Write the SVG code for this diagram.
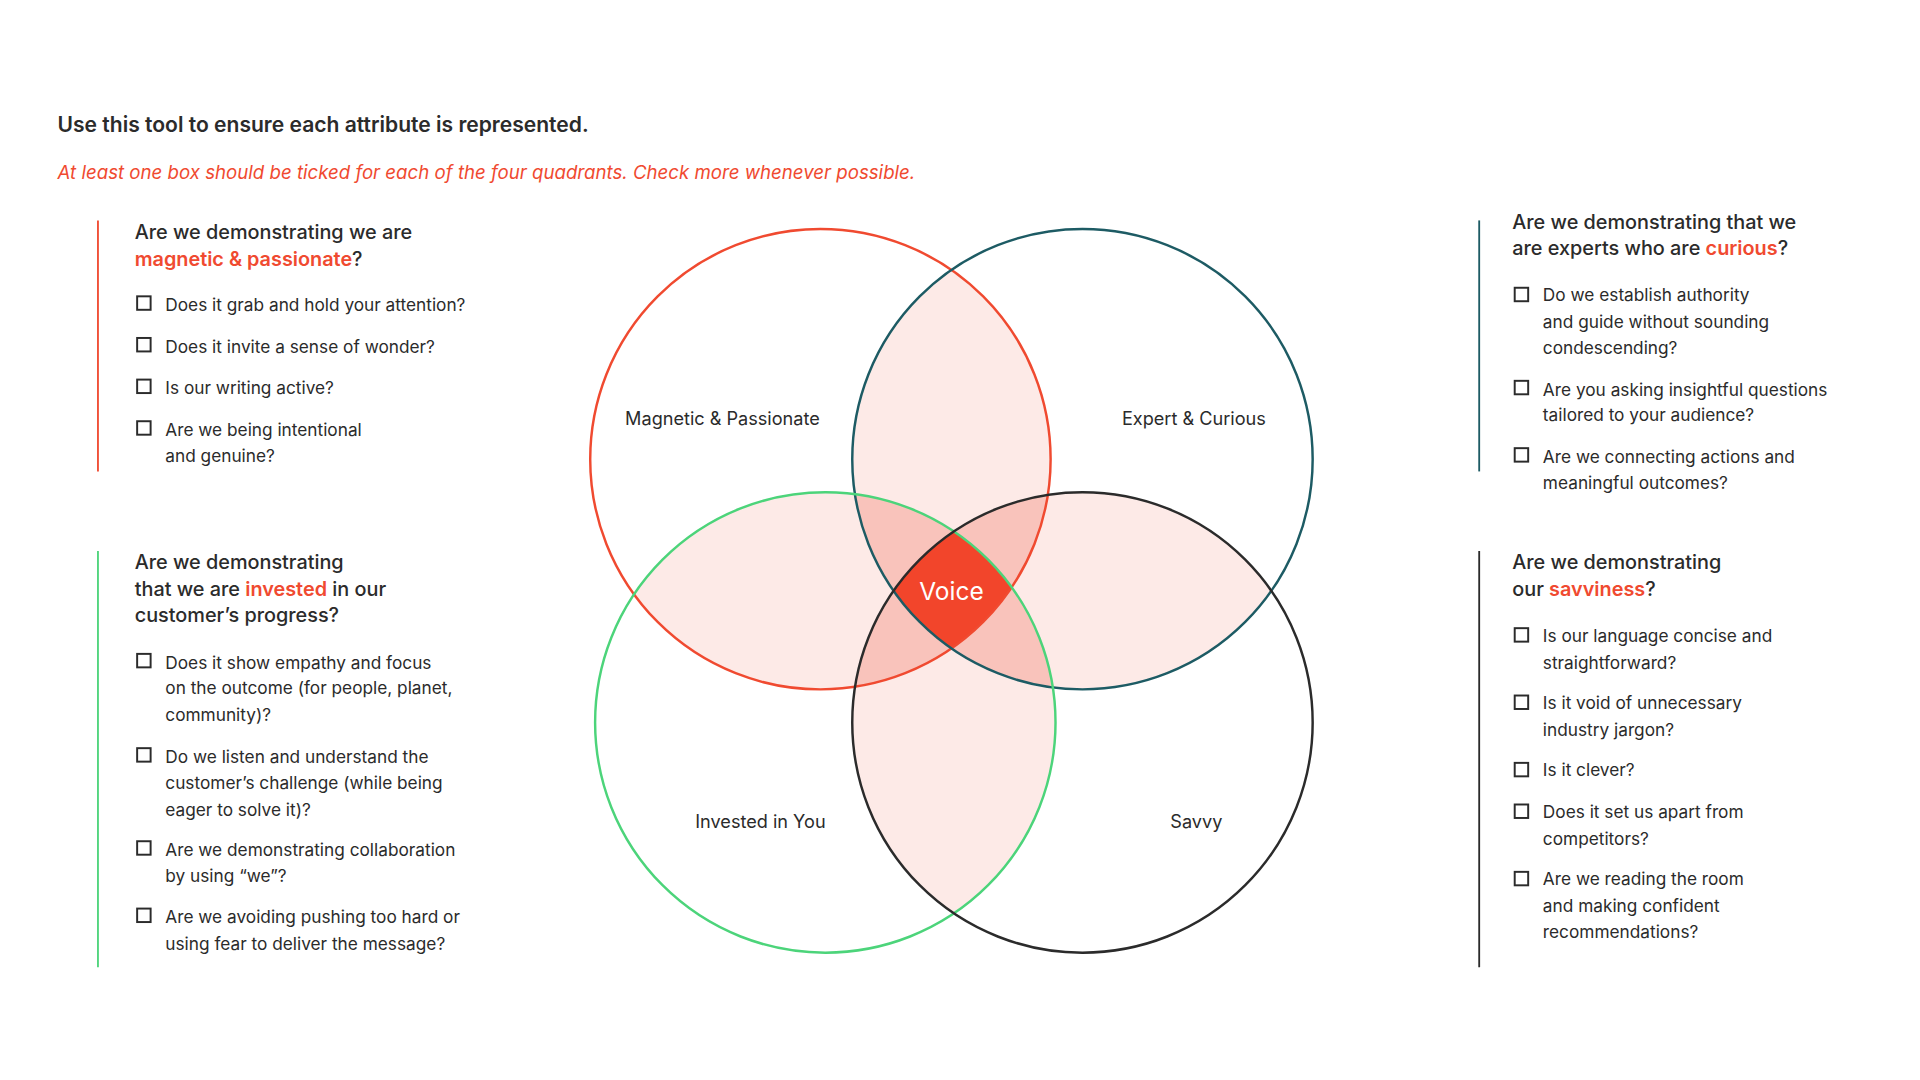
<svg xmlns="http://www.w3.org/2000/svg" width="1920" height="1080" viewBox="0 0 1920 1080">
<style>
text{font-family:Inter,"Liberation Sans",sans-serif;fill:#2b2b2b}
.h{font-size:16.2px;font-weight:500}
.b{font-size:14.1px}
.o{fill:#f04a30;font-weight:600}
.cb{fill:none;stroke:#2b2b2b;stroke-width:1.6}
.lbl{font-size:14.8px}
</style>
<defs>
<clipPath id="cR"><circle cx="670" cy="375" r="188"/></clipPath>
<clipPath id="cT"><circle cx="884" cy="375" r="188"/></clipPath>
<clipPath id="cG"><circle cx="674" cy="590" r="188"/></clipPath>
<clipPath id="cB"><circle cx="884" cy="590" r="188"/></clipPath>
</defs>
<rect width="1920" height="1080" fill="#fff"/>
<g transform="scale(1.2245)">
<text x="47" y="108" style="font-size:17.2px;font-weight:600">Use this tool to ensure each attribute is represented.</text>
<text x="47" y="146" style="font-size:15.25px;font-style:italic;fill:#f04a30">At least one box should be ticked for each of the four quadrants. Check more whenever possible.</text>

<g id="venn-fill">
<g clip-path="url(#cR)"><circle cx="884" cy="375" r="188" fill="#fdeae7"/><circle cx="674" cy="590" r="188" fill="#fdeae7"/></g>
<g clip-path="url(#cB)"><circle cx="884" cy="375" r="188" fill="#fdeae7"/><circle cx="674" cy="590" r="188" fill="#fdeae7"/></g>
<g clip-path="url(#cR)"><g clip-path="url(#cT)"><circle cx="674" cy="590" r="188" fill="#f9c3bb"/><circle cx="884" cy="590" r="188" fill="#f9c3bb"/></g></g>
<g clip-path="url(#cG)"><g clip-path="url(#cB)"><circle cx="670" cy="375" r="188" fill="#f9c3bb"/><circle cx="884" cy="375" r="188" fill="#f9c3bb"/></g></g>
<g clip-path="url(#cR)"><g clip-path="url(#cT)"><g clip-path="url(#cG)"><circle cx="884" cy="590" r="188" fill="#f2452b"/></g></g></g>
</g>
<g id="circles" fill="none" stroke-width="2">
<circle id="c-mag" cx="670" cy="375" r="188" stroke="#f04a30"/>
<circle id="c-exp" cx="884" cy="375" r="188" stroke="#1d5b64"/>
<circle id="c-inv" cx="674" cy="590" r="188" stroke="#4cd47a"/>
<circle id="c-sav" cx="884" cy="590" r="188" stroke="#2b2b2b"/>
</g>
<g id="venn-labels">
<text x="590" y="347" text-anchor="middle" class="lbl">Magnetic &amp; Passionate</text>
<text x="975" y="347" text-anchor="middle" class="lbl">Expert &amp; Curious</text>
<text x="621" y="676" text-anchor="middle" class="lbl">Invested in You</text>
<text x="977" y="676" text-anchor="middle" class="lbl">Savvy</text>
<text x="777" y="490" text-anchor="middle" style="font-size:20px;fill:#fff">Voice</text>
</g>

<g id="panel-mag">
<line x1="80" y1="180" x2="80" y2="385" stroke="#f04a30" stroke-width="1.5"/>
<text x="110" y="195" class="h">Are we demonstrating we are</text>
<text x="110" y="217" class="h"><tspan class="o">magnetic &amp; passionate</tspan>?</text>
<rect x="112" y="242" width="11" height="11" class="cb"/><text x="135" y="254" class="b">Does it grab and hold your attention?</text>
<rect x="112" y="276" width="11" height="11" class="cb"/><text x="135" y="288" class="b">Does it invite a sense of wonder?</text>
<rect x="112" y="310" width="11" height="11" class="cb"/><text x="135" y="322" class="b">Is our writing active?</text>
<rect x="112" y="344" width="11" height="11" class="cb"/><text x="135" y="356" class="b">Are we being intentional</text>
<text x="135" y="377" class="b">and genuine?</text>
</g>

<g id="panel-inv">
<line x1="80" y1="450" x2="80" y2="790" stroke="#4cd47a" stroke-width="1.5"/>
<text x="110" y="465" class="h">Are we demonstrating</text>
<text x="110" y="487" class="h">that we are <tspan class="o">invested</tspan> in our</text>
<text x="110" y="508" class="h">customer’s progress?</text>
<rect x="112" y="534" width="11" height="11" class="cb"/><text x="135" y="546" class="b">Does it show empathy and focus</text>
<text x="135" y="567" class="b">on the outcome (for people, planet,</text>
<text x="135" y="589" class="b">community)?</text>
<rect x="112" y="611" width="11" height="11" class="cb"/><text x="135" y="623" class="b">Do we listen and understand the</text>
<text x="135" y="644" class="b">customer’s challenge (while being</text>
<text x="135" y="666" class="b">eager to solve it)?</text>
<rect x="112" y="687" width="11" height="11" class="cb"/><text x="135" y="699" class="b">Are we demonstrating collaboration</text>
<text x="135" y="720" class="b">by using “we”?</text>
<rect x="112" y="742" width="11" height="11" class="cb"/><text x="135" y="754" class="b">Are we avoiding pushing too hard or</text>
<text x="135" y="776" class="b">using fear to deliver the message?</text>
</g>

<g id="panel-exp">
<line x1="1208" y1="180" x2="1208" y2="385" stroke="#1d5b64" stroke-width="1.5"/>
<text x="1235" y="187" class="h">Are we demonstrating that we</text>
<text x="1235" y="208" class="h">are experts who are <tspan class="o">curious</tspan>?</text>
<rect x="1237" y="235" width="11" height="11" class="cb"/><text x="1260" y="246" class="b">Do we establish authority</text>
<text x="1260" y="268" class="b">and guide without sounding</text>
<text x="1260" y="289" class="b">condescending?</text>
<rect x="1237" y="311" width="11" height="11" class="cb"/><text x="1260" y="323" class="b">Are you asking insightful questions</text>
<text x="1260" y="344" class="b">tailored to your audience?</text>
<rect x="1237" y="366" width="11" height="11" class="cb"/><text x="1260" y="378" class="b">Are we connecting actions and</text>
<text x="1260" y="399" class="b">meaningful outcomes?</text>
</g>

<g id="panel-sav">
<line x1="1208" y1="450" x2="1208" y2="790" stroke="#2b2b2b" stroke-width="1.5"/>
<text x="1235" y="465" class="h">Are we demonstrating</text>
<text x="1235" y="487" class="h">our <tspan class="o">savviness</tspan>?</text>
<rect x="1237" y="513" width="11" height="11" class="cb"/><text x="1260" y="524" class="b">Is our language concise and</text>
<text x="1260" y="546" class="b">straightforward?</text>
<rect x="1237" y="568" width="11" height="11" class="cb"/><text x="1260" y="579" class="b">Is it void of unnecessary</text>
<text x="1260" y="601" class="b">industry jargon?</text>
<rect x="1237" y="623" width="11" height="11" class="cb"/><text x="1260" y="634" class="b">Is it clever?</text>
<rect x="1237" y="657" width="11" height="11" class="cb"/><text x="1260" y="668" class="b">Does it set us apart from</text>
<text x="1260" y="690" class="b">competitors?</text>
<rect x="1237" y="712" width="11" height="11" class="cb"/><text x="1260" y="723" class="b">Are we reading the room</text>
<text x="1260" y="745" class="b">and making confident</text>
<text x="1260" y="766" class="b">recommendations?</text>
</g>
</g>
</svg>
